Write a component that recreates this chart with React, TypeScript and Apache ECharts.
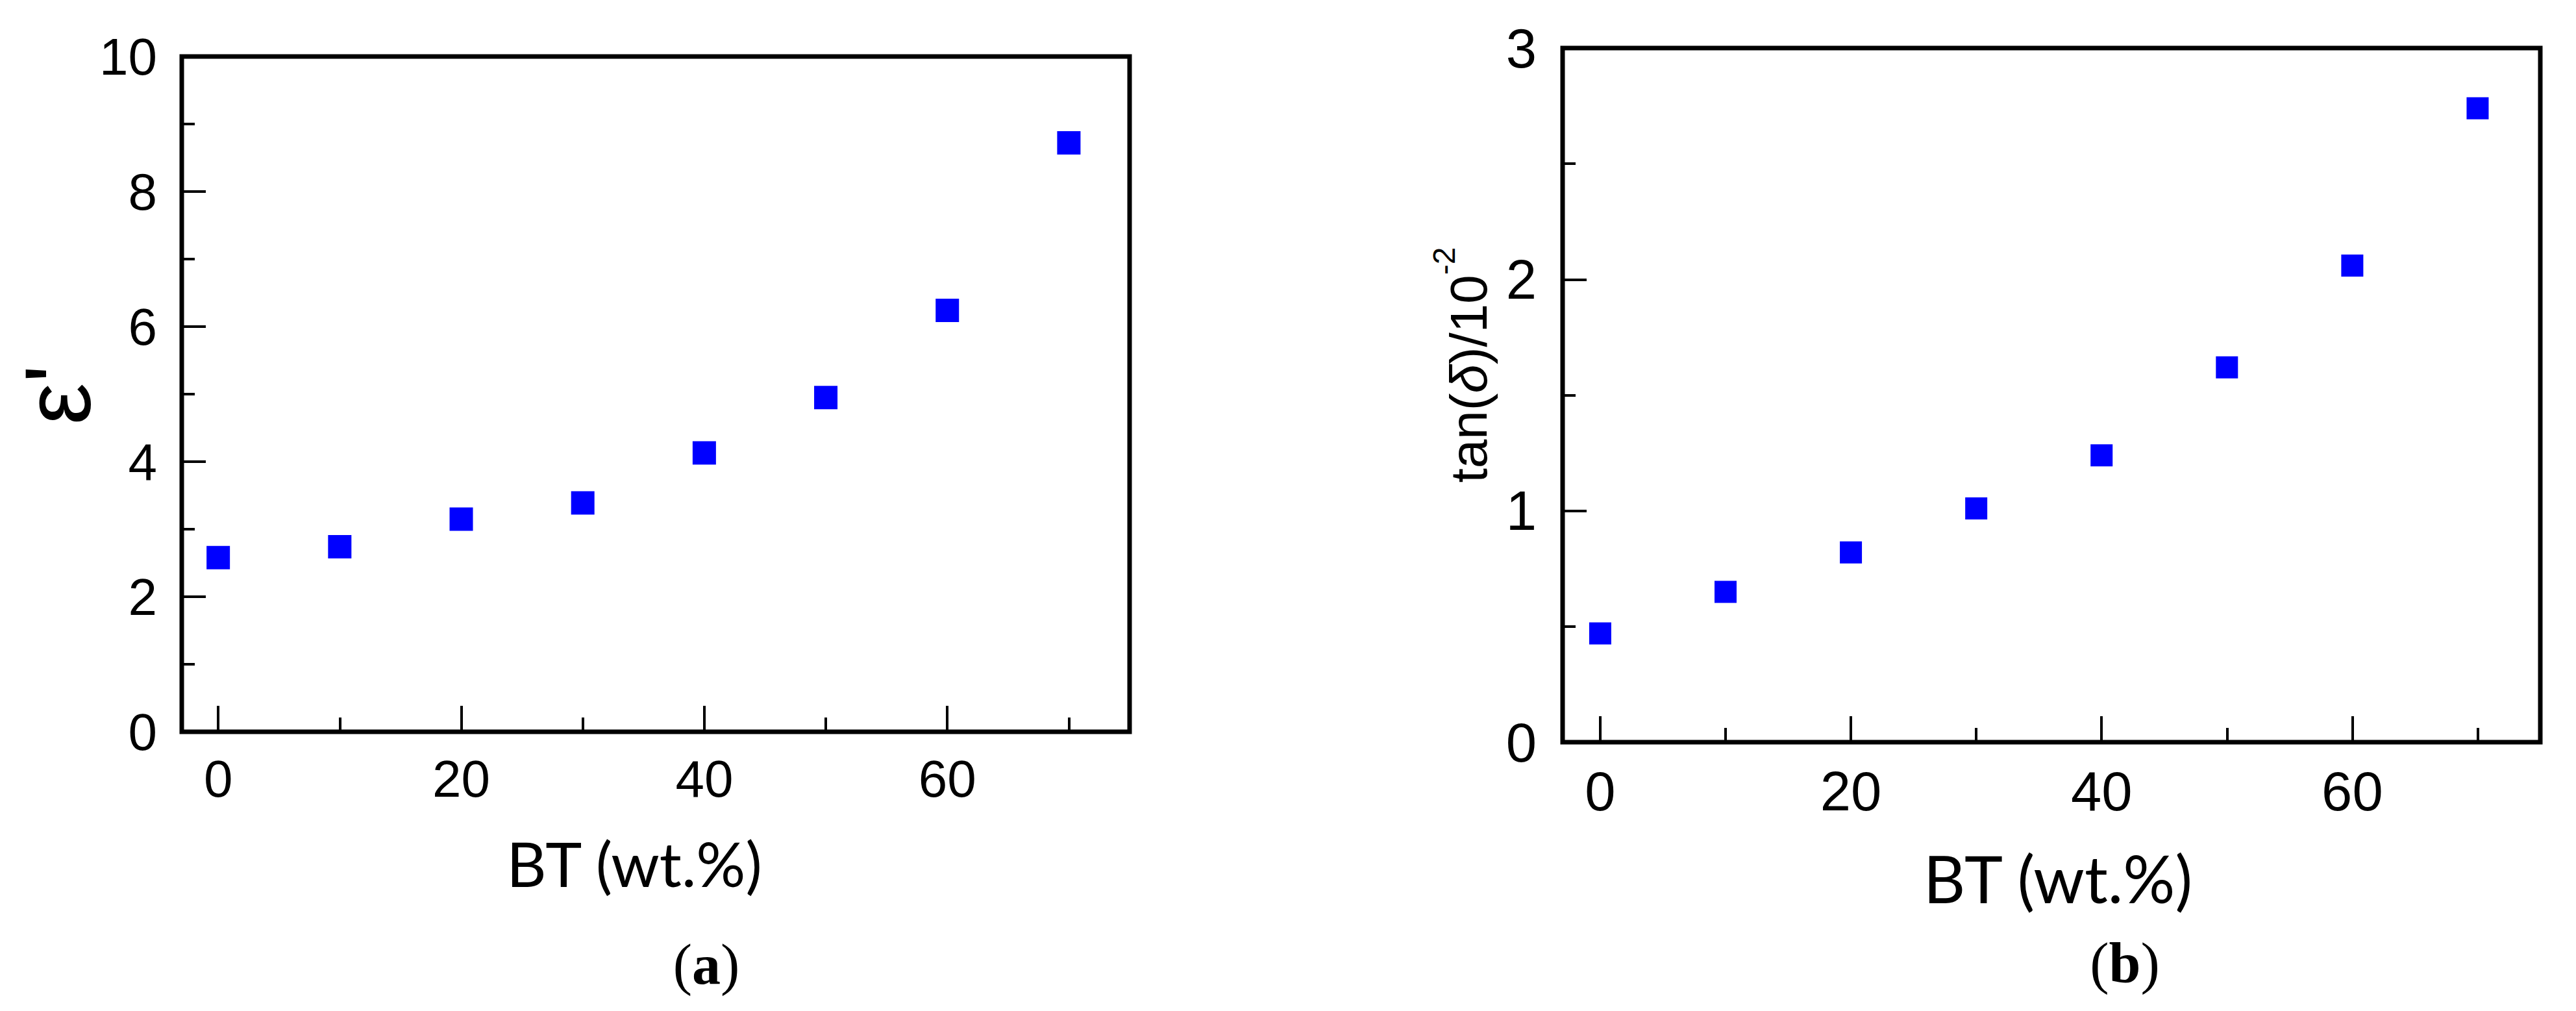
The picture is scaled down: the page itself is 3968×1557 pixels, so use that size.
import React, { useEffect, useRef } from 'react';
import * as echarts from 'echarts';

// ---- data ----
const btContent = [0, 10, 20, 30, 40, 50, 60, 70];
const permittivity = [2.58, 2.74, 3.15, 3.39, 4.13, 4.95, 6.24, 8.72];
const lossTangent = [0.47, 0.65, 0.82, 1.01, 1.24, 1.62, 2.06, 2.74];
const xMajorTicks = [0, 20, 40, 60];
const xMinorTicks = [10, 30, 50, 70];
const xAxisTitle = 'BT (wt.%)';
const leftYTitle = "ε'";
const panelTags = ['a', 'b'];

const SANS = '"Liberation Sans", Arial, sans-serif';
const TITLE = 'Lato, "Liberation Sans", sans-serif';
const SERIF = '"Liberation Serif", "Times New Roman", serif';
const BLUE = '#0000ff';

function xAxesFor(gridIndex: number, labelSize: number, labelMargin: number) {
  const common = {
    type: 'value' as const,
    gridIndex,
    min: -3,
    max: 75,
    position: 'bottom' as const,
    splitLine: { show: false },
  };
  return [
    {
      ...common,
      axisLine: { show: true, onZero: false, lineStyle: { color: '#000', width: 6 } },
      axisTick: {
        show: true,
        inside: true,
        length: 40,
        customValues: xMajorTicks,
        lineStyle: { color: '#000', width: 4 },
      },
      axisLabel: {
        show: true,
        customValues: xMajorTicks,
        fontSize: labelSize,
        fontFamily: SANS,
        color: '#000',
        margin: labelMargin,
      },
    },
    {
      ...common,
      axisLine: { show: false, onZero: false },
      axisTick: {
        show: true,
        inside: true,
        length: 22,
        customValues: xMinorTicks,
        lineStyle: { color: '#000', width: 4 },
      },
      axisLabel: { show: false },
    },
  ];
}

function yAxisFor(gridIndex: number, max: number, interval: number, labelSize: number, labelMargin: number) {
  return {
    type: 'value' as const,
    gridIndex,
    min: 0,
    max,
    interval,
    position: 'left' as const,
    splitLine: { show: false },
    minorSplitLine: { show: false },
    axisLine: { show: true, onZero: false, lineStyle: { color: '#000', width: 6 } },
    axisTick: { show: true, inside: true, length: 37, lineStyle: { color: '#000', width: 4 } },
    minorTick: { show: true, splitNumber: 2, length: 20, lineStyle: { color: '#000', width: 4 } },
    axisLabel: { fontSize: labelSize, fontFamily: SANS, color: '#000', margin: labelMargin },
  };
}

export default function App() {
  const ref = useRef<HTMLDivElement>(null);

  useEffect(() => {
    document.body.style.margin = '0';
    const chart = echarts.init(ref.current!, null, { renderer: 'svg' });

    const option: any = {
      animation: false,
      backgroundColor: '#fff',
      grid: [
        { left: 280, top: 87, width: 1460, height: 1040, show: true, borderColor: '#000', borderWidth: 7, backgroundColor: 'transparent' },
        { left: 2407, top: 74, width: 1506, height: 1069, show: true, borderColor: '#000', borderWidth: 7, backgroundColor: 'transparent' },
      ],
      xAxis: [...xAxesFor(0, 80, 32), ...xAxesFor(1, 85, 33)],
      yAxis: [yAxisFor(0, 10, 2, 80, 38), yAxisFor(1, 3, 1, 85, 40)],
      series: [
        {
          type: 'scatter',
          xAxisIndex: 0,
          yAxisIndex: 0,
          symbol: 'rect',
          symbolSize: 36,
          itemStyle: { color: BLUE, opacity: 1 },
          data: btContent.map((x, i) => [x, permittivity[i]]),
        },
        {
          type: 'scatter',
          xAxisIndex: 2,
          yAxisIndex: 1,
          symbol: 'rect',
          symbolSize: 34,
          itemStyle: { color: BLUE, opacity: 1 },
          data: btContent.map((x, i) => [x, lossTangent[i]]),
        },
      ],
      graphic: [
        {
          type: 'text',
          x: 89,
          y: 608,
          rotation: Math.PI / 2,
          style: {
            text: leftYTitle,
            fontSize: 145,
            fontFamily: SANS,
            fill: '#000',
            align: 'center',
            verticalAlign: 'middle',
            textAlign: 'center',
            textVerticalAlign: 'middle',
          },
        },
        {
          type: 'text',
          x: 2262,
          y: 562,
          rotation: Math.PI / 2,
          style: {
            text: '{a|tan(}{d|δ}{a|)/10}{s|-2}',
            align: 'center',
            verticalAlign: 'middle',
            textAlign: 'center',
            textVerticalAlign: 'middle',
            rich: {
              a: { fontSize: 80, fontFamily: SANS, fill: '#000', lineHeight: 124 },
              d: { fontSize: 80, fontFamily: SANS, fill: '#000', lineHeight: 124, fontStyle: 'italic' },
              s: { fontSize: 48, fontFamily: SANS, fill: '#000', lineHeight: 48, verticalAlign: 'top' },
            },
          },
        },
        {
          type: 'text',
          x: 977,
          y: 1329,
          style: {
            text: xAxisTitle,
            fontSize: 95,
            fontFamily: TITLE,
            fill: '#000',
            align: 'center',
            verticalAlign: 'middle',
            textAlign: 'center',
            textVerticalAlign: 'middle',
          },
        },
        {
          type: 'text',
          x: 3170,
          y: 1352,
          style: {
            text: xAxisTitle,
            fontSize: 100,
            fontFamily: TITLE,
            fill: '#000',
            align: 'center',
            verticalAlign: 'middle',
            textAlign: 'center',
            textVerticalAlign: 'middle',
          },
        },
        ...panelTags.map((tag, i) => ({
          type: 'text',
          x: i === 0 ? 1088 : 3273,
          y: i === 0 ? 1485 : 1483,
          style: {
            text: `{p|(}{b|${tag}}{p|)}`,
            align: 'center',
            verticalAlign: 'middle',
            textAlign: 'center',
            textVerticalAlign: 'middle',
            rich: {
              p: { fontSize: 88, fontFamily: SERIF, fill: '#000' },
              b: { fontSize: 88, fontFamily: SERIF, fontWeight: 'bold', fill: '#000' },
            },
          },
        })),
      ],
    };

    chart.setOption(option);
    return () => chart.dispose();
  }, []);

  return <div ref={ref} style={{ width: 3968, height: 1557 }} />;
}
